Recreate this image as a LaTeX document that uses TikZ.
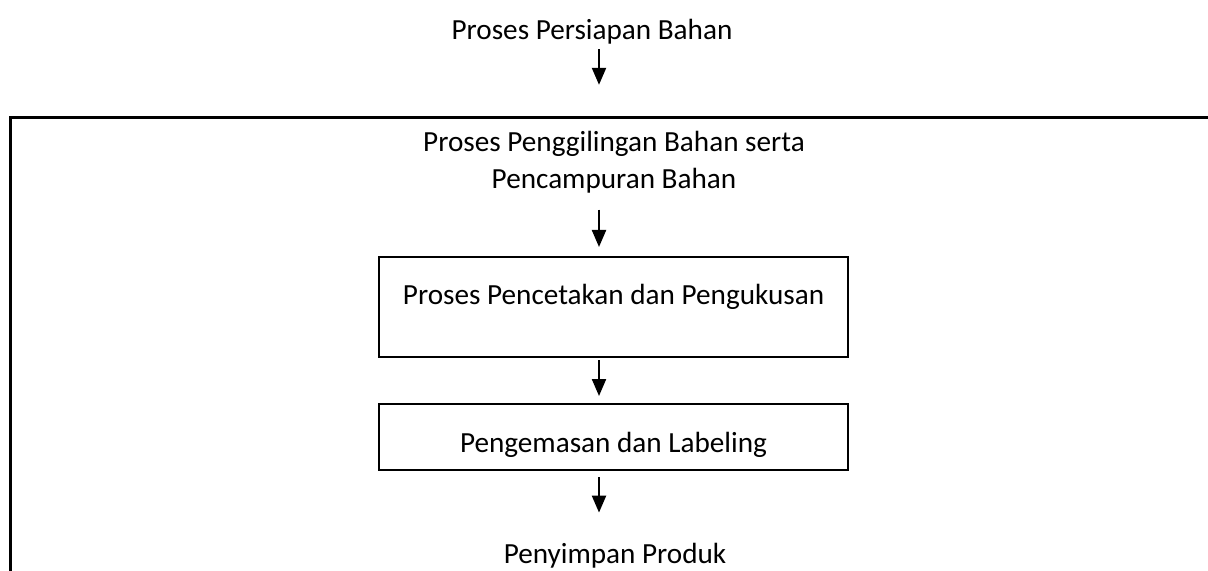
\documentclass[tikz,border=0pt]{standalone}
\usepackage{fontspec}
\setmainfont{Carlito}
\usetikzlibrary{arrows.meta}

\begin{document}
\begin{tikzpicture}[x=0.5pt, y=-0.5pt,
    txt/.style={inner sep=0pt, font=\fontsize{14.6}{18.5}\selectfont},
    box/.style={draw, line width=1pt, txt, minimum width=234.5pt, anchor=base},
    flow/.style={line width=1.1pt, -{Triangle[length=8.5pt,width=7pt]}}]
  \useasboundingbox (0,0) rectangle (1208,571);
  % frame round the steps after the preparation
  \draw[line width=1.5pt] (1208,118) -- (10,118) -- (10,571);
  \coordinate (axis) at (599,0);
  \node[txt, anchor=base, text height=10pt, text depth=3pt] (prep) at (592,40) {Proses Persiapan Bahan};
  \node[txt, anchor=base, align=center] (grind) at (614,188.5) {Proses Penggilingan Bahan serta\\Pencampuran Bahan};
  \node[box, text height=24pt, text depth=26pt] (print) at (613.5,305) {Proses Pencetakan dan Pengukusan};
  \node[box, text height=24pt, text depth=9pt] (lab) at (613.5,452) {Pengemasan dan Labeling};
  \node[txt, anchor=base, text height=10pt, text depth=3pt] (store) at (615,563) {Penyimpan Produk};
  % arrows
  \draw[flow, shorten <=1.5pt, shorten >=23pt] (prep.south -| axis) -- (grind.north -| axis);
  \draw[flow, shorten <=8pt, shorten >=4.5pt] (grind.south -| axis) -- (print.north -| axis);
  \draw[flow, shorten <=1pt, shorten >=3.5pt] (print.south -| axis) -- (lab.north -| axis);
  \draw[flow, shorten <=3pt, shorten >=15pt] (lab.south -| axis) -- (store.north -| axis);
\end{tikzpicture}
\end{document}
